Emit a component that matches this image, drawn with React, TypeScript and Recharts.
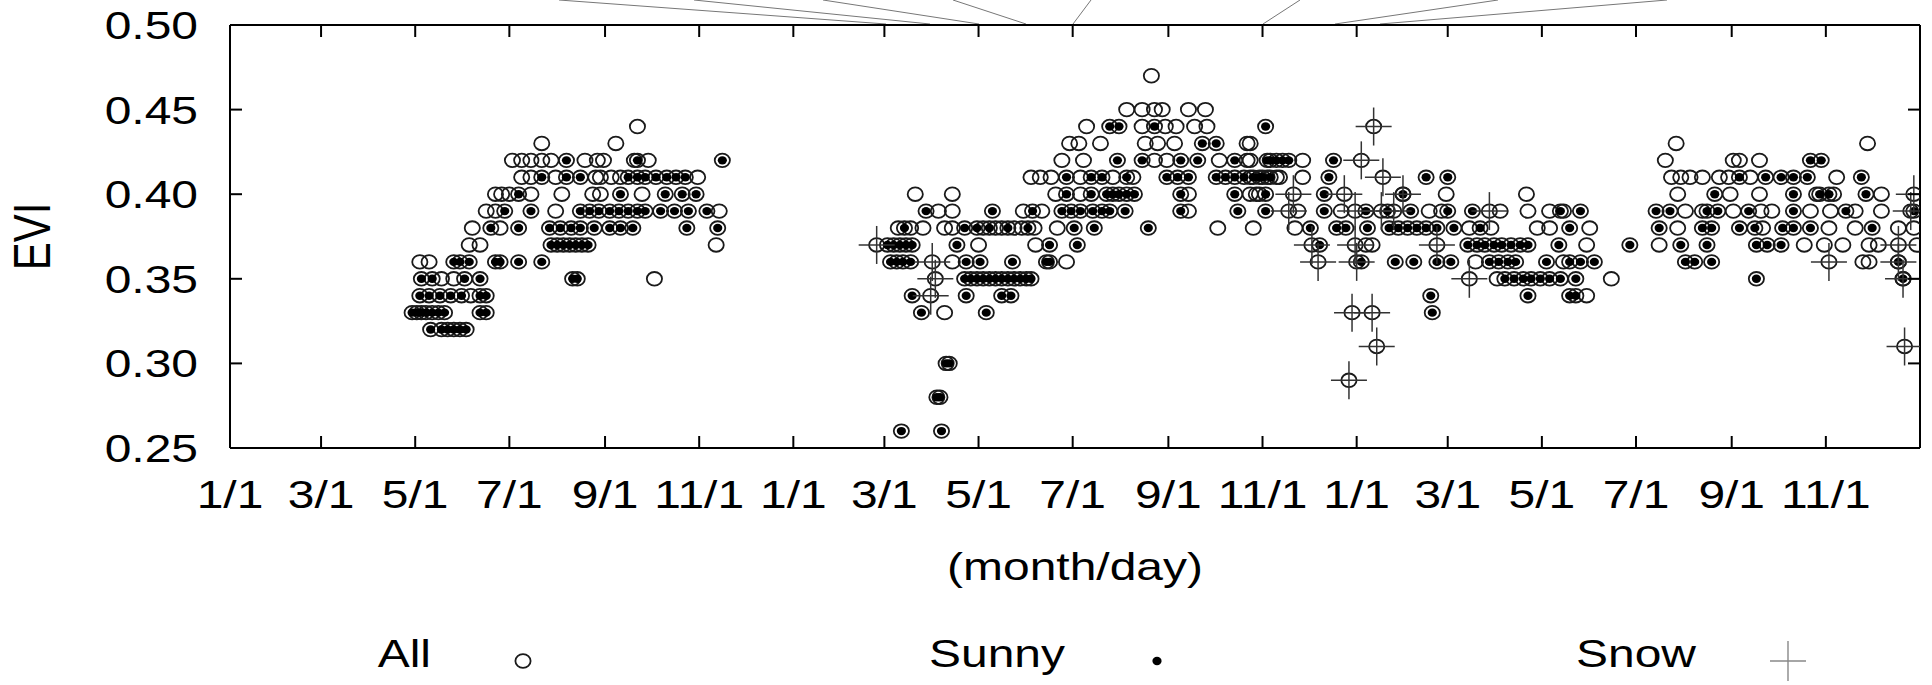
import React from 'react';
import { ScatterChart, Scatter, XAxis, YAxis, Legend } from 'recharts';

const W = 1932;
const H = 685;
const FONT = '"Liberation Sans", Arial, Helvetica, sans-serif';
const FS = 39;
const SX = 1.23;

// x = days since 1/1 of the first year (3 years shown)
const xTickDays = [0, 59, 120, 181, 243, 304, 365, 424, 485, 546, 608, 669, 730, 789, 850, 911, 973, 1034];
const xTickLabels = ['1/1', '3/1', '5/1', '7/1', '9/1', '11/1', '1/1', '3/1', '5/1', '7/1', '9/1', '11/1', '1/1', '3/1', '5/1', '7/1', '9/1', '11/1'];
const yTicks = [0.25, 0.3, 0.35, 0.4, 0.45, 0.5];
const seriesNames = ['All', 'Sunny', 'Snow'];

// rows: [EVI, days]
const otherYear1: [number, number[]][] = [
  [0.34, [156]],
  [0.35, [137, 145, 275]],
  [0.36, [123, 129]],
  [0.37, [155, 162, 315]],
  [0.38, [157, 175]],
  [0.39, [166, 172, 211, 317]],
  [0.4, [172, 176, 181, 195, 215, 235, 240, 267]],
  [0.41, [189, 195, 211, 237, 240, 247, 253, 303]],
  [0.42, [183, 189, 195, 202, 208, 230, 238, 242, 262, 271]],
  [0.43, [202, 250]],
  [0.44, [264]],
];
const sunnyYear1: [number, number[]][] = [
  [0.32, [130, 137, 141, 145, 149, 153]],
  [0.33, [118, 121, 124, 127, 131, 135, 139, 162, 166]],
  [0.34, [123, 129, 136, 143, 150, 162, 166]],
  [0.35, [124, 131, 152, 162, 222, 225]],
  [0.36, [145, 149, 155, 172, 175, 187, 202]],
  [0.37, [208, 212, 216, 220, 224, 228, 232]],
  [0.38, [169, 187, 207, 214, 221, 227, 236, 246, 253, 261, 296, 316]],
  [0.39, [178, 195, 227, 233, 239, 246, 252, 258, 264, 269, 279, 288, 297, 309]],
  [0.4, [187, 253, 282, 293, 302]],
  [0.41, [202, 218, 227, 258, 264, 269, 276, 283, 289, 295]],
  [0.42, [218, 264, 319]],
];
const otherYear2: [number, number[]][] = [
  [0.33, [463]],
  [0.36, [468, 542]],
  [0.37, [485, 522]],
  [0.38, [433, 441, 449, 463, 468, 488, 496, 500, 508, 513, 521, 536, 640, 663, 690]],
  [0.39, [459, 468, 514, 526, 621, 692, 720]],
  [0.4, [444, 468, 535, 551, 621, 665, 661, 667]],
  [0.41, [519, 525, 532, 551, 572, 585, 680, 661, 672, 678, 695]],
  [0.42, [539, 553, 599, 607, 641, 659, 661, 695]],
  [0.43, [544, 550, 564, 593, 601, 612, 659, 661]],
  [0.44, [555, 591, 606, 613, 625, 633]],
  [0.45, [581, 591, 599, 604, 621, 632]],
  [0.47, [597]],
];
const sunnyYear2: [number, number[]][] = [
  [0.26, [435, 461]],
  [0.28, [458, 460]],
  [0.3, [464, 466]],
  [0.33, [448, 490]],
  [0.34, [442, 477, 500, 506]],
  [0.35, [476, 480, 484, 488, 492, 496, 500, 504, 508, 512, 516, 519]],
  [0.36, [428, 432, 436, 441, 477, 486, 507, 529, 531]],
  [0.37, [426, 430, 434, 438, 442, 471, 531, 549, 706]],
  [0.38, [437, 476, 484, 492, 504, 517, 547, 560, 595, 700, 717, 723]],
  [0.39, [451, 494, 520, 539, 545, 551, 559, 565, 570, 580, 616, 653, 671, 709]],
  [0.4, [542, 558, 568, 572, 576, 581, 586, 616, 651, 671, 709]],
  [0.41, [542, 558, 565, 581, 607, 614, 621, 639, 645, 651, 657, 663, 669, 674, 667, 712]],
  [0.42, [575, 591, 616, 627, 651, 674, 686, 672, 678, 682, 715]],
  [0.43, [630, 639]],
  [0.44, [570, 576, 599, 671]],
];
const snowYear2: [number, number[]][] = [
  [0.29, [725]],
  [0.33, [727]],
  [0.34, [454]],
  [0.35, [457]],
  [0.36, [455, 705]],
  [0.37, [419, 701, 729]],
  [0.39, [686, 729]],
  [0.4, [689, 722]],
];
const otherYear3: [number, number[]][] = [
  [0.34, [879]],
  [0.35, [821, 895]],
  [0.36, [807, 864, 1058, 1062]],
  [0.37, [736, 740, 879, 926, 1020, 1033, 1045, 1062, 1068, 1093]],
  [0.38, [803, 817, 847, 855, 881, 938, 993, 1036, 1053, 1081, 1091]],
  [0.39, [777, 785, 823, 841, 855, 864, 943, 954, 974, 992, 999, 1024, 1037, 1053, 1070]],
  [0.4, [788, 840, 938, 972, 991, 1028, 1039, 1070]],
  [0.41, [934, 940, 946, 954, 965, 971, 985, 1041]],
  [0.42, [930, 974, 978, 991]],
  [0.43, [937, 1061]],
];
const sunnyYear3: [number, number[]][] = [
  [0.33, [779]],
  [0.34, [778, 841, 868, 872]],
  [0.35, [826, 832, 838, 843, 849, 855, 862, 872, 989, 1084]],
  [0.36, [733, 755, 767, 782, 791, 816, 822, 828, 833, 853, 868, 875, 884, 943, 949, 960, 1081]],
  [0.37, [802, 808, 813, 819, 824, 830, 836, 841, 861, 907, 940, 957, 989, 996, 1005]],
  [0.38, [737, 751, 757, 763, 769, 775, 782, 793, 810, 868, 926, 954, 960, 978, 988, 1006, 1013, 1024, 1064]],
  [0.39, [736, 750, 765, 789, 805, 862, 875, 924, 933, 957, 964, 984, 1013, 1047, 1091]],
  [0.4, [760, 962, 1013, 1030, 1036, 1060]],
  [0.41, [775, 789, 978, 995, 1005, 1013, 1022, 1057]],
  [0.42, [1024, 1031]],
];
const snowYear3: [number, number[]][] = [
  [0.31, [743, 1085]],
  [0.33, [740]],
  [0.35, [803, 1084]],
  [0.36, [730, 1036, 1081]],
  [0.37, [782, 1081]],
  [0.39, [746, 754, 816, 1089]],
  [0.4, [760, 1091]],
  [0.41, [747]],
  [0.42, [733]],
  [0.44, [741]],
];

// decorative leader lines above the frame (page pixels: x0, y0, x1, y1)
const leaderLines: [number, number, number, number][] = [
  [559, 0, 886, 24],
  [694, 0, 930, 24],
  [823, 0, 979, 24],
  [953, 0, 1026, 24],
  [1091, 0, 1073, 24],
  [1300, 0, 1263, 24],
  [1498, 0, 1335, 24],
  [1667, 0, 1380, 24],
];

type Pt = { day: number; evi: number };
const toPoints = (rows: [number, number[]][]): Pt[] =>
  rows.flatMap(([evi, days]) => days.map((day) => ({ day, evi })));

const sunnyData = [...toPoints(sunnyYear1), ...toPoints(sunnyYear2), ...toPoints(sunnyYear3)];
const snowData = [...toPoints(snowYear2), ...toPoints(snowYear3)];
const otherData = [...toPoints(otherYear1), ...toPoints(otherYear2), ...toPoints(otherYear3)];
const allData = [...otherData, ...sunnyData, ...snowData];

const OpenCircle = (p: any) => (
  <ellipse cx={p.cx} cy={p.cy} rx={7.6} ry={6.8} fill="none" stroke="#1a1a1a" strokeWidth={1.8} />
);
const Dot = (p: any) => <ellipse cx={p.cx} cy={p.cy} rx={4.6} ry={4.2} fill="#000" />;
const Plus = (p: any) => (
  <g stroke="#333" strokeWidth={1.5}>
    <line x1={p.cx - 18} y1={p.cy} x2={p.cx + 18} y2={p.cy} />
    <line x1={p.cx} y1={p.cy - 19} x2={p.cx} y2={p.cy + 19} />
  </g>
);

const SText = ({ x, y, anchor, children, size = FS }: any) => (
  <g transform={`translate(${x},${y}) scale(${SX},1)`}>
    <text x={0} y={0} textAnchor={anchor} fontFamily={FONT} fontSize={size} fill="#000">
      {children}
    </text>
  </g>
);

const BottomTick = (props: any) => {
  const { x, y, payload } = props;
  const i = xTickDays.indexOf(payload.value);
  return (
    <g>
      <line x1={x} y1={y} x2={x} y2={y - 12} stroke="#000" strokeWidth={2} />
      <SText x={x} y={y + 60} anchor="middle">{xTickLabels[i]}</SText>
    </g>
  );
};
const TopTick = (props: any) => {
  const { x, y } = props;
  return <line x1={x} y1={y} x2={x} y2={y + 12} stroke="#000" strokeWidth={2} />;
};
const LeftTick = (props: any) => {
  const { x, y, payload } = props;
  return (
    <g>
      <line x1={x} y1={y} x2={x + 12} y2={y} stroke="#000" strokeWidth={2} />
      <SText x={x - 32} y={y + 14} anchor="end">{Number(payload.value).toFixed(2)}</SText>
    </g>
  );
};
const RightTick = (props: any) => {
  const { x, y } = props;
  return <line x1={x} y1={y} x2={x - 12} y2={y} stroke="#000" strokeWidth={2} />;
};

const XLabel = (props: any) => {
  const vb = props.viewBox || { x: 230, y: 448, width: 1690 };
  return <SText x={vb.x + vb.width / 2} y={448 + 132} anchor="middle">(month/day)</SText>;
};
const YLabel = (props: any) => {
  const vb = props.viewBox || { x: 229, y: 25, height: 423 };
  return (
    <g transform={`translate(${50},${vb.y + vb.height / 2}) scale(${SX},1) rotate(-90)`}>
      <text x={0} y={0} textAnchor="middle" fontFamily={FONT} fontSize={42} fill="#000">EVI</text>
    </g>
  );
};

const LegendContent = () => {
  const ends = [431, 1065, 1696];
  const base = 47;
  const my = 41;
  return (
    <svg width={W} height={65} style={{ display: 'block' }}>
      {seriesNames.map((name, i) => {
        const mx = ends[i] + 92;
        return (
          <g key={name}>
            <SText x={ends[i]} y={base} anchor="end">{name}</SText>
            {i === 0 && <OpenCircle cx={mx} cy={my} />}
            {i === 1 && <Dot cx={mx} cy={my} />}
            {i === 2 && (
              <g stroke="#888" strokeWidth={1.4}>
                <line x1={mx - 18} y1={my} x2={mx + 18} y2={my} />
                <line x1={mx} y1={my - 20} x2={mx} y2={my + 20} />
              </g>
            )}
          </g>
        );
      })}
    </svg>
  );
};

const axisLine = { stroke: '#000', strokeWidth: 2 };

export default function App() {
  return (
    <div style={{ position: 'absolute', left: 0, top: 0, width: W, height: H, background: '#fff' }}>
      <svg width={W} height={30} style={{ position: 'absolute', left: 0, top: 0 }}>
        {leaderLines.map(([x0, y0, x1, y1], i) => (
          <line key={i} x1={x0} y1={y0} x2={x1} y2={y1} stroke="#777" strokeWidth={1} />
        ))}
      </svg>
      <div style={{ position: 'absolute', left: 0, top: 0 }}>
        <ScatterChart width={W} height={H} margin={{ top: 24, right: 11, bottom: 236, left: 229 }}>
          <XAxis
            xAxisId="b"
            type="number"
            dataKey="day"
            domain={[0, 1095]}
            ticks={xTickDays}
            interval={0}
            height={1}
            tickSize={0}
            tickMargin={0}
            tickLine={false}
            axisLine={axisLine}
            tick={<BottomTick />}
            label={<XLabel />}
            allowDataOverflow
          />
          <XAxis
            xAxisId="t"
            orientation="top"
            type="number"
            dataKey="day"
            domain={[0, 1095]}
            ticks={xTickDays}
            interval={0}
            height={1}
            tickSize={0}
            tickMargin={0}
            tickLine={false}
            axisLine={axisLine}
            tick={<TopTick />}
            allowDataOverflow
          />
          <YAxis
            yAxisId="l"
            type="number"
            dataKey="evi"
            domain={[0.25, 0.5]}
            ticks={yTicks}
            interval={0}
            width={1}
            tickSize={0}
            tickMargin={0}
            tickLine={false}
            axisLine={axisLine}
            tick={<LeftTick />}
            label={<YLabel />}
            allowDataOverflow
          />
          <YAxis
            yAxisId="r"
            orientation="right"
            type="number"
            dataKey="evi"
            domain={[0.25, 0.5]}
            ticks={yTicks}
            interval={0}
            width={1}
            tickSize={0}
            tickMargin={0}
            tickLine={false}
            axisLine={axisLine}
            tick={<RightTick />}
            allowDataOverflow
          />
          <Scatter name="All" data={allData} xAxisId="b" yAxisId="l" shape={OpenCircle} isAnimationActive={false} />
          <Scatter name="Sunny" data={sunnyData} xAxisId="b" yAxisId="l" shape={Dot} isAnimationActive={false} />
          <Scatter name="Snow" data={snowData} xAxisId="t" yAxisId="r" shape={Plus} isAnimationActive={false} />
          <Legend
            layout="horizontal"
            verticalAlign="middle"
            align="center"
            wrapperStyle={{ position: 'absolute', left: 0, top: 620, width: W, height: 65 }}
            content={<LegendContent />}
          />
        </ScatterChart>
      </div>
    </div>
  );
}
